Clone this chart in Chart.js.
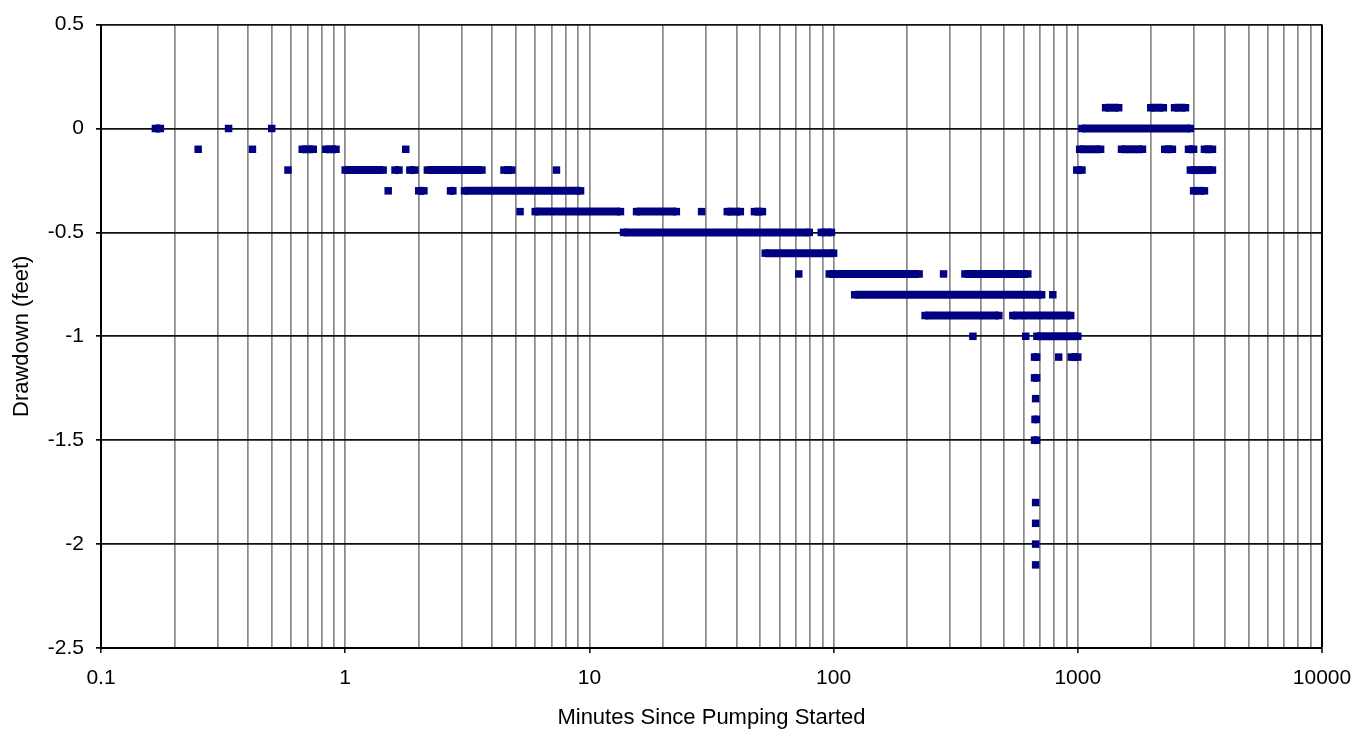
<!DOCTYPE html>
<html>
<head>
<meta charset="utf-8">
<title>Drawdown</title>
<script src="https://cdn.jsdelivr.net/npm/chart.js@4.4.1/dist/chart.umd.min.js"></script>
<style>
  html, body { margin: 0; padding: 0; background: #fff; }
  #wrap { width: 1370px; height: 734px; }
</style>
</head>
<body>
<div id="wrap"><canvas id="chart_Drawdown" width="1370" height="734"></canvas></div>
<script>

// drawdown readings (feet), grouped by level; each pair is [first minute, last minute] of a run of readings
const runs_p01 = [[1300, 1470], [1990, 2240], [2490, 2760]];
const runs_000 = [[0.167, 0.175], [0.333, 0.333], [0.5, 0.5], [1040, 2890]];
const runs_m01 = [[0.25, 0.25], [0.417, 0.417], [0.667, 0.74], [0.833, 0.917], [1.77, 1.77],
                  [1018, 1240], [1510, 1840], [2270, 2440], [2840, 2980], [3300, 3560]];
const runs_m02 = [[0.583, 0.583], [1.0, 1.43], [1.6, 1.66], [1.84, 1.93], [2.17, 3.63],
                  [4.47, 4.81], [7.33, 7.33], [990, 1040], [2890, 3560]];
const runs_m03 = [[1.5, 1.5], [2.0, 2.1], [2.7, 2.76], [3.08, 9.2], [2980, 3300]];
const runs_m04 = [[5.2, 5.2], [6.0, 13.4], [15.6, 22.7], [28.8, 28.8], [36.7, 41.5], [47.4, 51.1]];
const runs_m05 = [[13.8, 79.5], [89, 98]];
const runs_m06 = [[52.5, 100]];
const runs_m07 = [[72, 72], [96, 224], [282, 282], [345, 624]];
const runs_m08 = [[122, 711], [790, 790]];
const runs_m09 = [[237, 475], [542, 935]];
const runs_m10 = [[372, 372], [612, 612], [680, 1000]];
const runs_m11 = [[665, 678], [835, 835], [940, 1000]];
const runs_m12 = [[665, 678]];
const runs_m13 = [[672, 672]];
const runs_m14 = [[668, 676]];
const runs_m15 = [[665, 678]];
const runs_m18 = [[672, 672]];
const runs_m19 = [[672, 672]];
const runs_m20 = [[672, 672]];
const runs_m21 = [[672, 672]];

const levels = [
    [0.1, runs_p01], [0, runs_000], [-0.1, runs_m01], [-0.2, runs_m02], [-0.3, runs_m03],
    [-0.4, runs_m04], [-0.5, runs_m05], [-0.6, runs_m06], [-0.7, runs_m07], [-0.8, runs_m08],
    [-0.9, runs_m09], [-1.0, runs_m10], [-1.1, runs_m11], [-1.2, runs_m12], [-1.3, runs_m13],
    [-1.4, runs_m14], [-1.5, runs_m15], [-1.8, runs_m18], [-1.9, runs_m19], [-2.0, runs_m20],
    [-2.1, runs_m21]
];

// axes
const xTickValues = [0.1, 1, 10, 100, 1000, 10000];
const xTickLabels = ["0.1", "1", "10", "100", "1000", "10000"];
const xMinorSteps = [1, 2, 3, 4, 5, 6, 7, 8, 9];
const yTickValues = [0.5, 0, -0.5, -1, -1.5, -2, -2.5];
const yTickLabels = ["0.5", "0", "-0.5", "-1", "-1.5", "-2", "-2.5"];

const NAVY = "#000080";
const FONT = '"Liberation Sans", Arial, Helvetica, sans-serif';

Chart.defaults.font.family = FONT;
Chart.defaults.color = "#000";

const xGridValues = xTickValues.slice(0, -1)
    .flatMap(d => xMinorSteps.map(m => +(d * m).toPrecision(6)))
    .concat([xTickValues[xTickValues.length - 1]]);

const isDecade = v => xTickValues.some(d => Math.abs(v - d) / d < 1e-6);

const datasets = [];
levels.forEach(([level, runs]) => {
    runs.forEach(([a, b]) => {
        datasets.push({
            data: a === b ? [{x: a, y: level}] : [{x: a, y: level}, {x: b, y: level}],
            showLine: true,
            borderColor: NAVY,
            borderWidth: 8,
            borderCapStyle: "butt",
            pointStyle: "rect",
            pointRadius: 5.3,
            pointBorderWidth: 0,
            pointBackgroundColor: NAVY,
            pointBorderColor: NAVY,
            clip: false
        });
    });
});

const config_Drawdown = {
    type: "scatter",
    data: { datasets: datasets },
    options: {
        responsive: false,
        animation: false,
        devicePixelRatio: 1,
        layout: { padding: { top: 23, right: 48, bottom: 0, left: 0 } },
        elements: {
            line: { borderWidth: 8, borderColor: NAVY, borderCapStyle: "butt", tension: 0 }
        },
        plugins: {
            legend: { display: false },
            tooltip: { enabled: false }
        },
        scales: {
            x: {
                type: "logarithmic",
                position: "bottom",
                min: 0.1,
                max: 10000,
                afterBuildTicks: scale => { scale.ticks = xGridValues.map(v => ({ value: v })); },
                afterFit: scale => { scale.height = 86; },
                ticks: {
                    autoSkip: false,
                    maxRotation: 0,
                    minRotation: 0,
                    padding: 13,
                    font: { size: 21 },
                    color: "#000",
                    callback: value => {
                        const i = xTickValues.findIndex(d => Math.abs(value - d) / d < 1e-6);
                        return i >= 0 ? xTickLabels[i] : "";
                    }
                },
                grid: {
                    color: ctx => (ctx.tick && ctx.tick.value === 10000) ? "#000" : "#888",
                    lineWidth: ctx => (ctx.tick && ctx.tick.value === 10000) ? 2 : 1.7,
                    tickColor: ctx => (ctx.tick && isDecade(ctx.tick.value)) ? "#000" : "rgba(0,0,0,0)",
                    tickLength: 5,
                    tickWidth: 1.5
                },
                border: { display: true, color: "#000", width: 2 },
                title: {
                    display: true,
                    text: "Minutes Since Pumping Started",
                    font: { size: 22 },
                    color: "#000",
                    padding: { top: 0, bottom: 3 }
                }
            },
            y: {
                type: "linear",
                min: -2.5,
                max: 0.5,
                afterBuildTicks: scale => { scale.ticks = yTickValues.map(v => ({ value: v })); },
                afterFit: scale => { scale.width = 101; },
                ticks: {
                    padding: 12,
                    font: { size: 21 },
                    color: "#000",
                    callback: value => {
                        const i = yTickValues.findIndex(v => Math.abs(v - value) < 1e-9);
                        return i >= 0 ? yTickLabels[i] : "";
                    }
                },
                grid: {
                    color: "#111",
                    lineWidth: 1.7,
                    tickColor: "#000",
                    tickLength: 5
                },
                border: { display: true, color: "#000", width: 2 },
                title: {
                    display: true,
                    text: "Drawdown (feet)",
                    font: { size: 22 },
                    color: "#000",
                    padding: { top: 9, bottom: 0 }
                }
            }
        }
    }
};

const ctx_Drawdown = document.getElementById("chart_Drawdown").getContext("2d");
const myChart_Drawdown = new Chart(ctx_Drawdown, config_Drawdown);
</script>
</body>
</html>
